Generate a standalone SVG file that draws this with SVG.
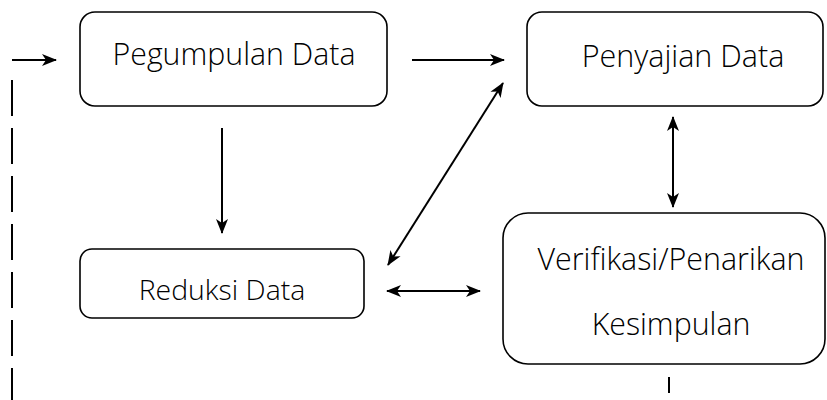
<svg xmlns="http://www.w3.org/2000/svg" width="827" height="400" viewBox="0 0 827 400">
<defs>
<marker id="ah" viewBox="0 0 15 13" refX="14" refY="6.5" markerWidth="15" markerHeight="13" markerUnits="userSpaceOnUse" orient="auto-start-reverse">
<path d="M0,0.5 L15,6.5 L0,12.5 L4,6.5 Z" fill="#000"/>
</marker>
<style>
.box{fill:#fff;stroke:#000;stroke-width:1.6}
.t{font-family:"Open Sans","Noto Sans",sans-serif;font-weight:300;fill:#000;text-anchor:middle}
.c{stroke:#000;stroke-width:2;fill:none}
</style>
</defs>
<rect width="827" height="400" fill="#fff"/>
<g id="pegumpulan">
<rect class="box" x="80" y="12" width="307" height="94" rx="15"/>
<text class="t" x="234" y="65" font-size="30.3">Pegumpulan Data</text>
</g>
<g id="penyajian">
<rect class="box" x="527" y="12" width="296" height="94" rx="15"/>
<text class="t" x="683" y="67" font-size="30.5">Penyajian Data</text>
</g>
<g id="reduksi">
<rect class="box" x="80" y="249" width="284" height="69" rx="12"/>
<text class="t" x="222" y="300" font-size="28.4">Reduksi Data</text>
</g>
<g id="verifikasi">
<rect class="box" x="503" y="213" width="322" height="151" rx="25"/>
<text class="t" x="671" y="270" font-size="30.4">Verifikasi/Penarikan</text>
<text class="t" x="671" y="335" font-size="30.3">Kesimpulan</text>
</g>
<g id="connectors">
<line class="c" x1="12" y1="60" x2="56" y2="60" marker-end="url(#ah)"/>
<line class="c" x1="12" y1="80" x2="12" y2="400" stroke-dasharray="36 12"/>
<line class="c" x1="412" y1="60" x2="504" y2="60" marker-end="url(#ah)"/>
<line class="c" x1="222" y1="128" x2="222" y2="233" marker-end="url(#ah)"/>
<line class="c" x1="388" y1="265" x2="503" y2="83" marker-start="url(#ah)" marker-end="url(#ah)"/>
<line class="c" x1="673" y1="117" x2="673" y2="207" marker-start="url(#ah)" marker-end="url(#ah)"/>
<line class="c" x1="387" y1="291" x2="480" y2="291" marker-start="url(#ah)" marker-end="url(#ah)"/>
<line class="c" x1="669" y1="377" x2="669" y2="393"/>
</g>
</svg>
